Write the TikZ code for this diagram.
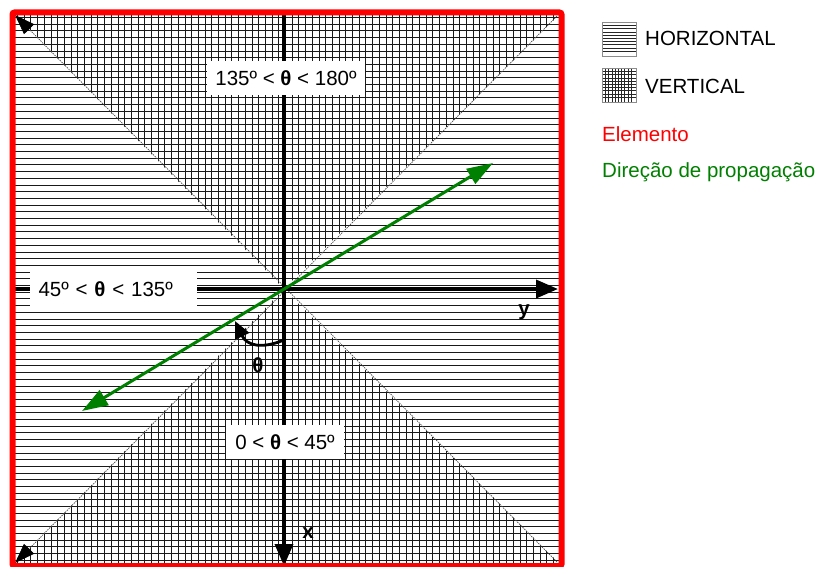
\documentclass[tikz,border=0pt]{standalone}
\usepackage{fontspec}
\setmainfont{Liberation Sans}
\usetikzlibrary{arrows.meta}
\definecolor{elred}{RGB}{255,0,0}
\definecolor{propgreen}{RGB}{0,128,0}
\begin{document}
\begin{tikzpicture}[x=1pt,y=-1pt,
  font=\fontsize{20.5}{24}\selectfont,
  hatchline/.style={black!90, line width=0.85pt},
  swatchline/.style={black!85, line width=0.7pt},
  diagline/.style={black!70, line width=0.7pt, dash pattern=on 1.5pt off 1pt},
  diagtip/.style={-{Triangle[length=20pt,width=14pt,color=black,fill=black]}},
  axisline/.style={black, line width=3.5pt, -{Triangle[length=22pt,width=18pt]}},
  proparrow/.style={propgreen, line width=3pt, {Triangle[length=26pt,width=17pt]}-{Triangle[length=26pt,width=17pt]}},
  labelbox/.style={fill=white, inner ysep=0pt, minimum height=34pt, anchor=center},
  legendtext/.style={anchor=base west, inner sep=0pt}]
\useasboundingbox (0,0) rectangle (822,567);
% corners and origin
\coordinate (TL) at (15,15);
\coordinate (TR) at (559,15);
\coordinate (BL) at (15,563);
\coordinate (BR) at (559,563);
\coordinate (O) at (284,289);
% horizontal hatching everywhere
\foreach \y in {17.5,24.2,...,562} {\draw[hatchline] (15,\y) -- (559,\y);}
% vertical hatching in top and bottom triangles
\begin{scope}
  \clip (TL) -- (TR) -- (O) -- cycle (BL) -- (BR) -- (O) -- cycle;
  \foreach \x in {17.5,24.2,...,559} {\draw[hatchline] (\x,15) -- (\x,563);}
\end{scope}
% diagonals
\coordinate (dTR) at (557,16);
\coordinate (dBR) at (557,562);
\draw[diagline, diagtip] (dBR) -- (TL);
\draw[diagline, diagtip] (dTR) -- (BL);
% axes
\coordinate (xS) at (284,15);
\coordinate (xE) at (284,566);
\coordinate (yS) at (15,289);
\coordinate (yE) at (558,289);
\draw[axisline] (xS) -- (xE);
\draw[axisline] (yS) -- (yE);
\node[font=\fontsize{20.5}{24}\selectfont\bfseries] (xlab) at (308,533) {x};
\node[font=\fontsize{20.5}{24}\selectfont\bfseries] (ylab) at (524,312) {y};
% propagation direction
\coordinate (gA) at (82,411);
\coordinate (gB) at (493,163);
\draw[proparrow] (gA) -- (gB);
% theta arc
\coordinate (tS) at (284,340);
\coordinate (tE) at (235,321);
\draw[black, line width=2.8pt, -{Triangle[length=17pt,width=15pt]}] (tS) .. controls (262,349) and (247,346) .. (tE);
\node[font=\fontsize{20.5}{24}\selectfont\bfseries] (thlab) at (258,365) {θ};
% region labels
\node[labelbox, inner xsep=8.5pt] (top) at (286,78.5) {135º < \textbf{θ} < 180º};
\node[labelbox, text width=150pt, align=left, inner xsep=8.5pt] (left) at (113.5,289) {45º < \textbf{θ} < 135º};
\node[labelbox, inner xsep=9pt] (bottom) at (285,442) {0 < \textbf{θ} < 45º};
% element border
\draw[elred, line width=6pt, rounded corners=2pt] (12.5,12.5) rectangle (561.5,566);
% legend
\draw[black!45, line width=0.8pt] (602.5,22.5) rectangle (636.5,56.5);
\foreach \y in {25.5,28.7,...,54} {\draw[swatchline] (603,\y) -- (636,\y);}
\draw[black!45, line width=0.8pt] (602.5,68.5) rectangle (636.5,102.5);
\foreach \y in {71.5,74.7,...,100} {\draw[swatchline] (603,\y) -- (636,\y);}
\foreach \x in {605.5,608.7,...,634} {\draw[swatchline] (\x,69) -- (\x,102);}
\node[legendtext] (lh) at (645,46) {HORIZONTAL};
\node[legendtext] (lv) at (645,94) {VERTICAL};
\node[legendtext, text=elred] (le) at (602,142) {Elemento};
\node[legendtext, text=propgreen] (lp) at (602,178) {Direção de propagação};
\end{tikzpicture}
\end{document}
